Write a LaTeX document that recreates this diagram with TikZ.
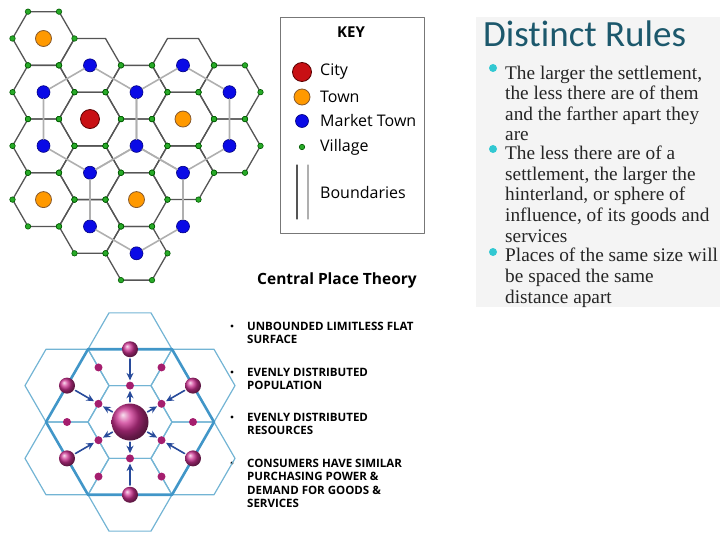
\documentclass[tikz,border=0pt]{standalone}
\usepackage{fontspec}
\setmainfont{Liberation Serif}
\setsansfont{Open Sans}
\newfontfamily\titlefont[Ligatures=NoCommon]{Carlito}
\usetikzlibrary{arrows.meta}
\definecolor{cityred}{RGB}{200,16,20}
\definecolor{townorange}{RGB}{255,153,0}
\definecolor{marketblue}{RGB}{10,10,230}
\definecolor{villagegreen}{RGB}{40,170,40}
\definecolor{hexgray}{RGB}{85,85,85}
\definecolor{bndgray}{RGB}{175,175,175}
\definecolor{rulesteal}{RGB}{28,88,108}
\definecolor{bulletcyan}{RGB}{50,200,210}
\definecolor{panelgray}{RGB}{244,244,244}
\definecolor{cpthin}{RGB}{115,180,212}
\definecolor{cpthick}{RGB}{65,150,200}
\definecolor{cparrow}{RGB}{40,75,155}
\definecolor{cppurple}{RGB}{205,50,145}
\definecolor{cpdotpurple}{RGB}{165,30,110}
\begin{document}
\begin{tikzpicture}[x=1pt,y=-1pt,line join=round,line cap=round,font=\sffamily,
    >={Stealth[length=7.5pt,width=7pt]},
    hexedge/.style={hexgray,line width=1.3pt},
    boundary/.style={bndgray,line width=1.6pt},
    village/.style={circle,draw=green!35!black,fill=villagegreen,inner sep=0pt,minimum size=5.5pt,line width=.6pt},
    market/.style={circle,draw=blue!50!black,fill=marketblue,inner sep=0pt,minimum size=13pt,line width=.6pt},
    town/.style={circle,draw=brown!70!black,fill=townorange,inner sep=0pt,minimum size=16pt,line width=.8pt},
    city/.style={circle,draw=red!35!black,fill=cityred,inner sep=0pt,minimum size=19pt,line width=.8pt},
    keytext/.style={anchor=west,inner sep=0pt,font=\sffamily\fontsize{16}{19}\selectfont},
    ruletext/.style={anchor=base west,align=left,inner sep=0pt,text=black!85,font=\rmfamily\fontsize{19.3}{20.6}\selectfont},
    listtext/.style={anchor=base west,align=left,inner sep=0pt,font=\sffamily\bfseries\fontsize{11.5}{13.6}\selectfont},
    listdot/.style={circle,fill=black,inner sep=0pt,minimum size=3.2pt},
    cpthinline/.style={cpthin,line width=1.2pt},
    sphere/.style={circle,ball color=cppurple,inner sep=0pt},
    cpdot/.style={circle,fill=cpdotpurple,inner sep=0pt,minimum size=8pt},
    cparr/.style={->,cparrow,line width=1.6pt,shorten <=1.5pt,shorten >=1pt}]
\useasboundingbox (0,0) rectangle (720,540);
\def\hs{31}\def\cs{42}
\def\hexlist{0/0/town/1,0/1/market/1,0/2/market/1,0/3/town/1,
    1/0/market/2,1/1/city/1,1/2/market/1,1/3/market/1,
    2/1/market/1,2/2/market/1,2/3/town/1,2/4/market/1,
    3/0/market/2,3/1/town/1,3/2/market/1,3/3/market/0,
    4/1/market/1,4/2/market/1}
\foreach \col/\row/\kind/\hk in \hexlist{
  \pgfmathsetmacro\hx{43.5+46.5*\col}
  \pgfmathsetmacro\hy{38.5+53.7*\row+26.85*mod(\col,2)}
  \ifnum\hk>0
    \draw[hexedge] (\hx,\hy) +(0:\hs)--+(60:\hs)--+(120:\hs)--+(180:\hs)--+(240:\hs)--+(300:\hs)--cycle;
  \fi
  \node[\kind] (p-\col-\row) at (\hx,\hy) {};
}
\foreach \col/\row/\kind/\hk in \hexlist{
  \pgfmathsetmacro\hx{43.5+46.5*\col}
  \pgfmathsetmacro\hy{38.5+53.7*\row+26.85*mod(\col,2)}
  \ifnum\hk>0
    \foreach \ang in {0,60,...,300}{
      \pgfmathtruncatemacro\notop{(\hk==2)&&(\ang>200)}
      \ifnum\notop=0
        \path (\hx,\hy) ++(\ang:\hs) node[village] (v-\col-\row-\ang) {};
      \fi
    }
  \fi
}
\draw[boundary] (p-1-0)--(p-2-1)--(p-2-2)--(p-1-2)--(p-0-2)--(p-0-1)--(p-1-0);
\draw[boundary] (p-3-0)--(p-4-1)--(p-4-2)--(p-3-2)--(p-2-2)--(p-2-1)--(p-3-0);
\draw[boundary] (p-2-2)--(p-3-2)--(p-3-3)--(p-2-4)--(p-1-3)--(p-1-2)--(p-2-2);

\draw[hexgray!80,line width=1pt] (280,18) rectangle (424,233);
\node[font=\sffamily\bfseries\fontsize{15}{18}\selectfont] (key) at (351,32) {KEY};
\node[city] (k-city) at (302,72) {};
\node[keytext] (k-citylbl) at (320,72) {City};
\node[town] (k-town) at (302,97) {};
\node[keytext] (k-townlbl) at (320,97) {Town};
\node[market] (k-market) at (302,121) {};
\node[keytext] (k-marketlbl) at (320,121) {Market Town};
\node[village] (k-village) at (302,147) {};
\node[keytext] (k-villagelbl) at (320,147) {Village};
\draw[hexedge] (297,165)--(297,219);
\draw[boundary,line width=1.3pt] (308,165)--(308,219);
\node[keytext] (k-bndlbl) at (320,193) {Boundaries};

\node[font=\sffamily\bfseries\fontsize{15.5}{19}\selectfont] (cpt) at (337,280) {Central Place Theory};

\fill[panelgray] (476,17) rectangle (720,307);
\node[anchor=base west,inner sep=0pt,text=rulesteal,font=\titlefont\fontsize{37}{40}\selectfont] (rules) at (483,47) {Distinct Rules};
\node[circle,fill=bulletcyan,inner sep=0pt,minimum size=8pt] (rb-one) at (493,68) {};
\node[circle,fill=bulletcyan,inner sep=0pt,minimum size=8pt] (rb-two) at (493,149) {};
\node[circle,fill=bulletcyan,inner sep=0pt,minimum size=8pt] (rb-three) at (493,252) {};
\node[ruletext] (rule-one) at (505,141) {The larger the settlement,\\the less there are of them\\and the farther apart they\\are};
\node[ruletext] (rule-two) at (505,242) {The less there are of a\\settlement, the larger the\\hinterland, or sphere of\\influence, of its goods and\\services};
\node[ruletext] (rule-three) at (505,303) {Places of the same size will\\be spaced the same\\distance apart};

\node[listdot] (ld-one) at (232,326) {};
\node[listtext] (li-one) at (247,343.6) {UNBOUNDED LIMITLESS FLAT\\SURFACE};
\node[listdot] (ld-two) at (232,372) {};
\node[listtext] (li-two) at (247,389.6) {EVENLY DISTRIBUTED\\POPULATION};
\node[listdot] (ld-three) at (232,417) {};
\node[listtext] (li-three) at (247,434.6) {EVENLY DISTRIBUTED\\RESOURCES};
\node[listdot] (ld-four) at (232,463) {};
\node[listtext] (li-four) at (247,507.8) {CONSUMERS HAVE SIMILAR\\PURCHASING POWER \&\\DEMAND FOR GOODS \&\\SERVICES};

\begin{scope}[shift={(130,422)}]
  \draw[cpthinline] (0:\cs)--(60:\cs)--(120:\cs)--(180:\cs)--(240:\cs)--(300:\cs)--cycle;
  \foreach \ang in {30,90,...,330}
    \draw[cpthinline] (\ang:72.75) +(0:\cs)--+(60:\cs)--+(120:\cs)--+(180:\cs)--+(240:\cs)--+(300:\cs)--cycle;
  \draw[cpthick,line width=2.6pt] (0:84)--(60:84)--(120:84)--(180:84)--(240:84)--(300:84)--cycle;
  \foreach \ang in {0,60,...,300}
    \node[cpdot] (cp-o\ang) at (\ang:63) {};
  \foreach \ang in {30,90,...,330}{
    \node[cpdot] (cp-i\ang) at (\ang:36.4) {};
    \node[sphere,minimum size=16pt] (cp-m\ang) at (\ang:72.75) {};
  }
  \node[sphere,minimum size=37pt] (cp-c) at (0,0) {};
  \foreach \ang in {30,90,...,330}{
    \draw[cparr] (cp-m\ang)--(cp-i\ang);
    \draw[cparr] (cp-c)--(cp-i\ang);
  }
\end{scope}
\end{tikzpicture}
\end{document}
